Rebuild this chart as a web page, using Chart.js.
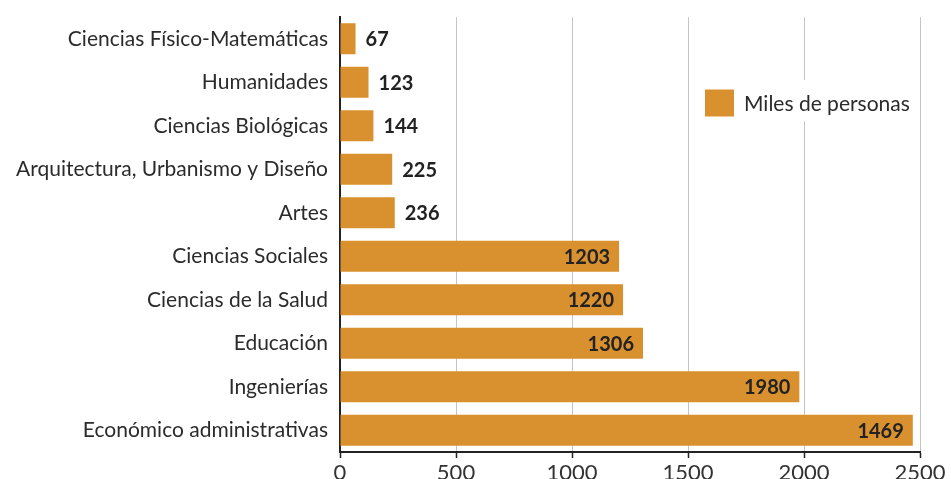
<!DOCTYPE html>
<html>
<head>
<meta charset="utf-8">
<script src="https://cdn.jsdelivr.net/npm/chart.js@4.4.1/dist/chart.umd.min.js"></script>
<style>
  html, body { margin: 0; padding: 0; background: #fff; }
  #wrap { width: 951px; height: 479px; }
</style>
</head>
<body>
<div id="wrap"><canvas id="c" width="951" height="479"></canvas></div>
<script>
const categories = [
  'Ciencias Físico-Matemáticas',
  'Humanidades',
  'Ciencias Biológicas',
  'Arquitectura, Urbanismo y Diseño',
  'Artes',
  'Ciencias Sociales',
  'Ciencias de la Salud',
  'Educación',
  'Ingenierías',
  'Económico administrativas'
];
const values = [67, 123, 144, 225, 236, 1203, 1220, 1306, 1980, 2469];
const valueLabels = ['67', '123', '144', '225', '236', '1203', '1220', '1306', '1980', '1469'];
const seriesName = 'Miles de personas';
const xMin = 0, xMax = 2500, xStep = 500;

const FONT = 'Lato, "Open Sans", sans-serif';
const BAR_COLOR = '#D9912F';

const labelPlugin = {
  id: 'valueLabels',
  afterDatasetsDraw(chart) {
    const ctx = chart.ctx;
    const meta = chart.getDatasetMeta(0);
    ctx.save();
    ctx.font = 'bold 20px ' + FONT;
    ctx.fillStyle = '#222';
    ctx.textBaseline = 'middle';
    meta.data.forEach((bar, i) => {
      const v = values[i];
      if (v > 1000) {
        ctx.textAlign = 'right';
        ctx.fillText(valueLabels[i], bar.x - 9, bar.y + 1);
      } else {
        ctx.textAlign = 'left';
        ctx.fillText(valueLabels[i], bar.x + 10, bar.y + 1);
      }
    });
    ctx.restore();
  }
};

const legendPlugin = {
  id: 'insideLegend',
  afterDatasetsDraw(chart) {
    const ctx = chart.ctx;
    const a = chart.chartArea;
    ctx.save();
    ctx.fillStyle = '#fff';
    ctx.fillRect(a.right - 222, 80, 212, 41);
    ctx.fillStyle = BAR_COLOR;
    ctx.fillRect(a.right - 215, 89.5, 29, 27);
    ctx.fillStyle = '#2b2b2b';
    ctx.font = '21px ' + FONT;
    ctx.textAlign = 'left';
    ctx.textBaseline = 'middle';
    ctx.fillText(chart.data.datasets[0].label, a.right - 176, 104);
    ctx.restore();
  }
};

new Chart(document.getElementById('c'), {
  type: 'bar',
  data: {
    labels: categories,
    datasets: [{
      label: seriesName,
      data: values,
      backgroundColor: BAR_COLOR,
      borderWidth: 0,
      barPercentage: 0.713,
      categoryPercentage: 1.0
    }]
  },
  options: {
    indexAxis: 'y',
    responsive: false,
    animation: false,
    layout: { padding: { top: 17, right: 31, left: 0, bottom: 0 } },
    plugins: {
      legend: { display: false },
      tooltip: { enabled: false }
    },
    scales: {
      x: {
        min: xMin,
        max: xMax,
        ticks: {
          stepSize: xStep,
          font: { family: FONT, size: 22 },
          color: '#333',
          padding: 2,
          maxRotation: 0,
          callback: (v) => String(v)
        },
        grid: {
          color: '#c4c4c4',
          lineWidth: 1,
          tickLength: 6,
          tickColor: '#222',
          tickWidth: 1.5
        },
        border: { color: '#222', width: 2 },
        afterFit(scale) { scale.height = 27; }
      },
      y: {
        grid: { display: false },
        border: { color: '#222', width: 2 },
        ticks: {
          font: { family: FONT, size: 21 },
          color: '#2b2b2b',
          padding: 4
        },
        afterFit(scale) { scale.width = 340; }
      }
    }
  },
  plugins: [labelPlugin, legendPlugin]
});
</script>
</body>
</html>
